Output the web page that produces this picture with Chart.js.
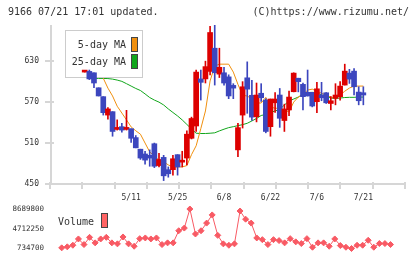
<!DOCTYPE html>
<html>
<head>
<meta charset="utf-8">
<script src="https://cdn.jsdelivr.net/npm/chart.js@4.4.1/dist/chart.umd.min.js"></script>
<style>
  html, body { margin: 0; padding: 0; background: #fff; }
  #wrap { position: relative; width: 420px; height: 259px; overflow: hidden; }
  #wrap canvas { position: absolute; left: 0; top: 0; }
  .hdr { position: absolute; top: 6px; font: 10px 'DejaVu Sans Mono', monospace; line-height: 12px; color: #333; white-space: pre; }
</style>
</head>
<body>
<div id="wrap">
  <canvas id="price" width="420" height="259"></canvas>
  <canvas id="volume" width="420" height="259"></canvas>
  <div class="hdr" style="left:8px">9166 07/21 17:01 updated.</div>
  <div class="hdr" style="right:11px">(C)https://www.rizumu.net/</div>
</div>
<script>
// trading days shown on the chart
const dates = ['4/21','4/22','4/23','4/24','4/27','4/28','4/30','5/1','5/7','5/8',
  '5/11','5/12','5/13','5/14','5/15','5/18','5/19','5/20','5/21','5/22',
  '5/25','5/26','5/27','5/28','5/29','6/1','6/2','6/3','6/4','6/5',
  '6/8','6/9','6/10','6/11','6/12','6/15','6/16','6/17','6/18','6/19',
  '6/22','6/23','6/24','6/25','6/26','6/29','6/30','7/1','7/2','7/3',
  '7/6','7/7','7/8','7/9','7/10','7/13','7/14','7/15','7/16','7/17','7/21'];

const openP = [614,615,613,591,578,551,556,530,534,530,531,518,501,494,492,509,477,489,471,471,
  493,482,488,517,535,604,604,615,649,611,613,607,594.5,500,551,605.6,580,548.7,583,573,
  534,569,580.4,543,558.5,585.2,605,596,584.3,584.3,570.6,580.4,583.7,568,575.5,578,595,612.5,615.4,584.7,583.7];
const closeP = [614.5,604,598,579,554.5,560,527,531,529,531,517,503,488,485,488,476,486,462,465,487,
  475,482.5,523,546,614,599,622,672,613,621,598,579,590.5,532.6,592.5,589,548,580.4,576.4,527,
  574.5,574.5,546.3,560,577.4,612.5,600,578,579,564.3,589.5,576.4,569,572,580.4,593.5,615.4,603.7,592.5,572,580.4];
const highP = [615,617,613,591,578,562,556,544,539,558,531,521,501,498,500,510,495,492,475,492,
  493,498,528,548,617,617,630,681,683,649,621,610,597,539,600,629,602,598,597,575,
  574.5,584,590,567,586,613,605,598,617,584.3,599,599,584,578,597,600,625.6,618,619,592.5,592.5];
const lowP = [614,603,591,579,551,545,520,529,526,529,511,503,486,479,476,474,475,455,460,463,
  463,475,478,516,527,573,598,610,595,606,595,575,575,490,532,553.6,543,541,571,525,
  520,555,533,527,550,585,585,558.5,578.9,563,554.5,572,568,558.5,566,573,595,597.4,580.4,566,566];

const ma5 = [null,629,622,613,605,590.5,579,564,554,544,533.6,528,523,510,497,491,485,482.5,478,475,
  475,475,477,493,506,531,557,601,623,625.6,625.6,625.6,614,596,580,579,574.5,568.7,568.7,577,
  563,561,561,558.5,555.5,570,577.4,580.4,587.7,589,586,583,580,577.4,576,580.4,586,590.6,593.5,593.5,593.5];
const ma25 = [null,604.7,604.7,604.7,604.7,604.5,603.7,602.3,600.4,597,593.5,590,587,582,576.7,573,570,565.8,560,554.8,
  549.7,543.9,537.3,530.7,524.4,524,524,524.4,525,527.8,530.3,532.6,534,535.5,537,539,542.4,546,550.4,551.9,
  554.8,557,559.2,565.8,571.6,574.5,577.4,581.8,584,584.3,584,580.4,578.2,576,575.5,576,576.7,577,577,577.4,577.4];

const volume = [null,870000,1070000,1390000,2660000,1530000,2980000,1870000,2660000,2980000,1870000,
  1670000,3060000,1670000,1190000,2720000,2860000,2660000,2860000,1530000,1870000,
  1870000,4310000,4850000,8689800,3660000,4310000,5850000,7500000,3380000,1670000,
  1390000,1670000,8290000,6640000,5850000,2860000,2520000,1530000,2520000,2330000,
  1870000,2720000,2070000,1730000,2720000,990000,1870000,1870000,1190000,2660000,
  1330000,990000,734700,1390000,1390000,2390000,990000,1730000,1730000,1530000];

const priceTicks = [450, 510, 570, 630];
const volumeTicks = [734700, 4712250, 8689800];
const dateTickIdx = [10, 20, 30, 40, 50, 60];
const maLegend = ['5-day MA', '25-day MA'];

const RED = '#dd0000', BLUE = '#3c46be', ORANGE = '#f0900f', GREEN = '#11a61b';
const PINK = '#f85a64';
const AXIS = '#d6d6d6', TEXT = '#333';
const MONO = "'DejaVu Sans Mono', monospace";
const X_MIN = -1.1, X_MAX = 62.6;
const GRID_DIVS = 11; // bottom tick marks are evenly spaced, not tied to dates

const candleColor = i => (closeP[i] >= openP[i] ? RED : BLUE);

function drawMaLegend(ctx) {
  ctx.save();
  ctx.fillStyle = '#fff';
  ctx.fillRect(65, 30, 78, 48);
  ctx.strokeStyle = '#cccccc';
  ctx.lineWidth = 1;
  ctx.strokeRect(65.5, 30.5, 77, 47);
  ctx.font = '10px ' + MONO;
  ctx.textAlign = 'right';
  ctx.textBaseline = 'middle';
  [ORANGE, GREEN].forEach((c, k) => {
    const y = 37 + k * 17;
    ctx.fillStyle = TEXT;
    ctx.fillText(maLegend[k], 126, y + 8);
    ctx.fillStyle = c;
    ctx.fillRect(131, y, 7, 15);
    ctx.strokeStyle = '#444';
    ctx.strokeRect(131.5, y + 0.5, 6, 14);
  });
  ctx.restore();
}

const framePlugin = {
  id: 'frame',
  afterDatasetDraw(chart, args) {
    if (chart.data.datasets[args.index].label === '5-day MA') drawMaLegend(chart.ctx);
  },
  afterDraw(chart) {
    const { ctx, chartArea: a, scales } = chart;
    ctx.save();
    ctx.strokeStyle = AXIS;
    ctx.lineWidth = 2;
    ctx.beginPath();
    ctx.moveTo(a.left + 1, a.top);
    ctx.lineTo(a.left + 1, a.bottom + 1);
    ctx.moveTo(a.left, a.bottom);
    ctx.lineTo(a.right + 1, a.bottom);
    priceTicks.forEach(v => {
      const y = Math.round(scales.y.getPixelForValue(v));
      ctx.moveTo(a.left - 5, y);
      ctx.lineTo(a.left + 4, y);
    });
    for (let k = 0; k <= GRID_DIVS; k++) {
      const x = Math.round(a.left + (a.right - a.left) * k / GRID_DIVS);
      ctx.moveTo(x, a.bottom - 2);
      ctx.lineTo(x, a.bottom + 5);
    }
    ctx.stroke();
    ctx.restore();
  }
};

new Chart(document.getElementById('price'), {
  type: 'bar',
  data: {
    datasets: [
      {
        type: 'line', label: '25-day MA', order: 4,
        data: ma25.map((v, i) => ({ x: i, y: v })),
        borderColor: GREEN, borderWidth: 1, pointRadius: 0, tension: 0
      },
      {
        type: 'line', label: '5-day MA', order: 3,
        data: ma5.map((v, i) => ({ x: i, y: v })),
        borderColor: ORANGE, borderWidth: 1, pointRadius: 0, tension: 0
      },
      {
        label: 'wick', order: 2, grouped: false,
        data: dates.map((d, i) => ({ x: i, y: [lowP[i], highP[i]] })),
        backgroundColor: ctx => candleColor(ctx.dataIndex),
        barThickness: 1, minBarLength: 1
      },
      {
        label: 'body', order: 1, grouped: false,
        data: dates.map((d, i) => ({ x: i, y: [openP[i], closeP[i]] })),
        backgroundColor: ctx => candleColor(ctx.dataIndex),
        barThickness: 5, minBarLength: 2
      }
    ]
  },
  options: {
    responsive: false,
    animation: false,
    devicePixelRatio: 1,
    layout: { padding: { left: 0, right: 15, top: 25, bottom: 0 } },
    plugins: { legend: { display: false }, tooltip: { enabled: false } },
    scales: {
      x: {
        type: 'linear', min: X_MIN, max: X_MAX,
        afterBuildTicks: s => { s.ticks = dateTickIdx.map(v => ({ value: v })); },
        afterFit: s => { s.height = 75; },
        grid: { display: false, drawTicks: false },
        border: { display: false },
        ticks: {
          callback: v => dates[v], autoSkip: false, maxRotation: 0,
          font: { family: MONO, size: 8 }, color: TEXT, padding: 9
        }
      },
      y: {
        min: 450, max: 683,
        afterBuildTicks: s => { s.ticks = priceTicks.map(v => ({ value: v })); },
        afterFit: s => { s.width = 50; },
        grid: { display: false, drawTicks: false },
        border: { display: false },
        ticks: { font: { family: MONO, size: 8 }, color: TEXT, padding: 11 }
      }
    }
  },
  plugins: [framePlugin]
});

const volumeLegend = {
  id: 'volLegend',
  afterDraw(chart) {
    const ctx = chart.ctx;
    ctx.save();
    ctx.font = '10px ' + MONO;
    ctx.fillStyle = TEXT;
    ctx.textAlign = 'left';
    ctx.textBaseline = 'middle';
    ctx.fillText('Volume', 58, 222);
    ctx.fillStyle = '#ff6464';
    ctx.fillRect(101, 213, 7, 15);
    ctx.strokeStyle = '#444';
    ctx.lineWidth = 1;
    ctx.strokeRect(101.5, 213.5, 6, 14);
    ctx.restore();
  }
};

new Chart(document.getElementById('volume'), {
  type: 'line',
  data: {
    datasets: [{
      label: 'Volume',
      data: volume.map((v, i) => ({ x: i, y: v })),
      borderColor: PINK, backgroundColor: PINK, borderWidth: 1,
      pointStyle: 'rectRot', pointRadius: 3, pointBorderWidth: 1,
      tension: 0, clip: false
    }]
  },
  options: {
    responsive: false,
    animation: false,
    devicePixelRatio: 1,
    layout: { padding: { left: 0, right: 15, top: 209, bottom: 10 } },
    plugins: { legend: { display: false }, tooltip: { enabled: false } },
    scales: {
      x: { type: 'linear', min: X_MIN, max: X_MAX, display: false },
      y: {
        min: volumeTicks[0], max: volumeTicks[volumeTicks.length - 1],
        afterBuildTicks: s => { s.ticks = volumeTicks.map(v => ({ value: v })); },
        afterFit: s => { s.width = 50; },
        grid: { display: false, drawTicks: false },
        border: { display: false },
        ticks: { callback: v => String(v), font: { family: MONO, size: 7.5 }, color: TEXT, padding: 6 }
      }
    }
  },
  plugins: [volumeLegend]
});
</script>
</body>
</html>
